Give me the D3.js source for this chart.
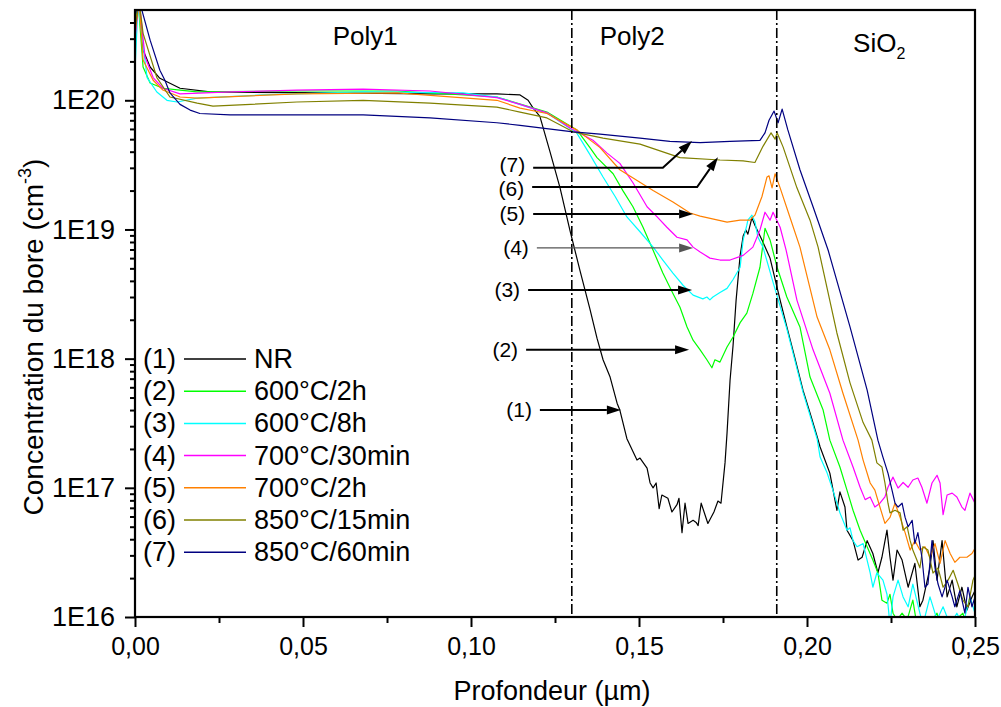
<!DOCTYPE html>
<html><head><meta charset="utf-8">
<script src="https://cdn.jsdelivr.net/npm/d3@7"></script>
<style>body{margin:0;background:#fff} svg text{font-family:"Liberation Sans",Arial,sans-serif;fill:#000}</style>
</head><body><svg id="c" width="1001" height="707"></svg>
<script>
// ---------- data ----------
const seriesIds = ["(1)","(2)","(3)","(4)","(5)","(6)","(7)"];
const seriesNames = ["NR","600°C/2h","600°C/8h","700°C/30min","700°C/2h","850°C/15min","850°C/60min"];
const xTickValues = [0,0.05,0.10,0.15,0.20,0.25];
const xMinorTicks = [0.025,0.075,0.125,0.175,0.225];
const yTickValues = [1e16,1e17,1e18,1e19,1e20];
const interfaces = [0.13,0.191];
const regionLabels = ["Poly1","Poly2","SiO"];
const regionCenters = [0.0685,0.148,0.2215];

const nr = [[0,3.5e20],[0.0012,6e20],[0.0024,2.45e20],[0.0045,1.81e20],[0.0074,1.48e20],[0.0134,1.24e20],[0.0223,1.16e20],[0.058,1.14e20],[0.0878,1.12e20],[0.1077,1.12e20],[0.1146,1.1e20],[0.117,1.0e20],[0.1185,8.7e19],[0.1205,7.5e19],[0.1235,4.0e19],[0.1265,2.1e19],[0.1295,9.7e18],[0.1324,4.85e18],[0.1354,2.42e18],[0.1375,1.44e18],[0.1393,9.8e17],[0.1414,7.2e17],[0.1435,4.5e17],[0.1443,4.0e17],[0.1464,2.4e17],[0.1494,1.64e17],[0.1503,1.7e17],[0.1524,1.42e17],[0.1533,1.09e17],[0.1542,1.0e17],[0.1551,1.09e17],[0.156,6.9e16],[0.1568,8.8e16],[0.1586,8.3e16],[0.1598,6.5e16],[0.1613,7.4e16],[0.1619,8.3e16],[0.1628,4.5e16],[0.1637,7.6e16],[0.1646,5.3e16],[0.1661,5.6e16],[0.167,5.4e16],[0.1676,5.1e16],[0.1685,7.6e16],[0.1705,5.3e16],[0.1723,6.5e16],[0.1735,7.9e16],[0.1744,7.6e16],[0.1756,1.56e17],[0.1762,2.65e17],[0.1771,6.8e17],[0.178,1.27e18],[0.1789,2.84e18],[0.1801,6.3e18],[0.181,8.9e18],[0.1818,9.9e18],[0.1824,9.2e18],[0.1836,1.23e19],[0.1845,1.08e19],[0.1866,8.3e18],[0.189,6.0e18],[0.192,2.84e18],[0.194,1.76e18],[0.1964,1.01e18],[0.1988,5.7e17],[0.2009,3.8e17],[0.203,2.5e17],[0.2039,2.07e17],[0.2068,1.3e17],[0.2089,6.7e16],[0.2098,9.3e16],[0.2113,7.1e16],[0.2119,4.7e16],[0.2137,3.9e16],[0.2152,2.76e16],[0.2164,2.9e16],[0.2179,3.9e16],[0.2196,3.1e16],[0.2211,2.2e16],[0.2223,2.9e16],[0.2238,4.7e16],[0.2247,2.9e16],[0.2256,1.93e16],[0.2268,3.3e16],[0.2283,2.76e16],[0.2301,1.7e16],[0.2321,2.6e16],[0.2336,1.2e16],[0.2345,1.35e16],[0.2366,2.4e16],[0.2375,3.9e16],[0.2387,1.93e16],[0.2402,3.9e16],[0.2417,1.43e16],[0.2432,1.93e16],[0.2446,1.2e16],[0.2461,1.7e16],[0.2476,1.13e16],[0.2491,1.43e16],[0.25,1.6e16]];

const s600_2h = [[0,3.0e20],[0.0009,6e20],[0.0024,1.81e20],[0.0045,1.36e20],[0.0083,1.24e20],[0.0134,1.2e20],[0.0185,1.16e20],[0.0482,1.18e20],[0.078,1.18e20],[0.1077,1.06e20],[0.1226,8.1e19],[0.1315,5.9e19],[0.1354,4.3e19],[0.1375,3.6e19],[0.1423,2.7e19],[0.1452,2.0e19],[0.1482,1.5e19],[0.1512,1.04e19],[0.1542,6.9e18],[0.1571,4.6e18],[0.1601,3.2e18],[0.1622,2.5e18],[0.1643,1.76e18],[0.1661,1.39e18],[0.1682,1.17e18],[0.1702,9.8e17],[0.1717,8.5e17],[0.1726,9.8e17],[0.1741,9.4e17],[0.1762,1.23e18],[0.178,1.47e18],[0.1801,1.9e18],[0.1821,2.25e18],[0.1839,3.2e18],[0.186,5.1e18],[0.1875,1.02e19],[0.189,8.3e18],[0.1911,5.1e18],[0.194,3.0e18],[0.1979,1.76e18],[0.2009,7.2e17],[0.2048,4.0e17],[0.2068,2.34e17],[0.2098,1.45e17],[0.2119,9.6e16],[0.2137,6.7e16],[0.2158,4.7e16],[0.2179,3.5e16],[0.2196,2.76e16],[0.2211,2.2e16],[0.2223,1.35e16],[0.2238,1.28e16],[0.2247,1.5e16],[0.2256,1.07e16],[0.2268,9.5e15],[0.2283,1.07e16],[0.2298,9.5e15],[0.2315,1.35e16],[0.2327,8.7e15],[0.2351,7.9e15],[0.2387,1.07e16],[0.2402,7.9e15],[0.2426,8.7e15],[0.2464,1.07e16],[0.2479,7.9e15],[0.25,8.7e15]];

const s600_8h = [[0,1.7e20],[0.0009,5.5e20],[0.0036,1.5e20],[0.0065,1.16e20],[0.0095,1.0e20],[0.0125,9.7e19],[0.0185,1.04e20],[0.0381,1.1e20],[0.0679,1.16e20],[0.0976,1.14e20],[0.1077,1.06e20],[0.1226,7.96e19],[0.1315,5.57e19],[0.1354,3.8e19],[0.1393,2.55e19],[0.1429,1.8e19],[0.1464,1.25e19],[0.1503,9.6e18],[0.1542,7.3e18],[0.1571,5.8e18],[0.1601,4.6e18],[0.1631,3.7e18],[0.1661,3.1e18],[0.169,2.9e18],[0.1702,3.0e18],[0.1711,2.85e18],[0.172,3.0e18],[0.1741,3.25e18],[0.1762,3.5e18],[0.178,4.1e18],[0.1801,5.1e18],[0.181,8.3e18],[0.1821,1.08e19],[0.1824,1.18e19],[0.1836,1.29e19],[0.1845,1.15e19],[0.1854,8.7e18],[0.1869,7.3e18],[0.1899,3.9e18],[0.194,1.7e18],[0.1988,5.5e17],[0.203,2.4e17],[0.2039,1.73e17],[0.206,1.3e17],[0.2077,9.6e16],[0.2098,6.4e16],[0.2119,4.7e16],[0.2128,4.9e16],[0.2137,3.9e16],[0.2149,3.5e16],[0.2167,3.7e16],[0.2188,2.2e16],[0.2196,1.7e16],[0.2208,2.2e16],[0.2226,1.93e16],[0.2238,1.5e16],[0.2247,8.7e15],[0.2256,1.43e16],[0.2271,1.93e16],[0.2286,1.43e16],[0.2301,1.2e16],[0.2315,1.8e16],[0.2336,1.07e16],[0.2345,8.7e15],[0.2366,1.43e16],[0.2387,9.5e15],[0.2405,1.2e16],[0.2426,8.7e15],[0.2446,1.07e16],[0.2464,8.7e15],[0.2485,1.43e16],[0.25,1.07e16]];

const s700_30m = [[0,3.0e20],[0.0012,6e20],[0.003,2.16e20],[0.0054,1.5e20],[0.0083,1.24e20],[0.0134,1.12e20],[0.0283,1.16e20],[0.0482,1.2e20],[0.0679,1.22e20],[0.0878,1.18e20],[0.1077,1.05e20],[0.1146,9.3e19],[0.1226,8.0e19],[0.1295,6.1e19],[0.1363,4.9e19],[0.1405,3.9e19],[0.1443,3.25e19],[0.1482,2.3e19],[0.1524,1.5e19],[0.1554,1.25e19],[0.1583,1.04e19],[0.1613,8.7e18],[0.1643,8.3e18],[0.1661,7.3e18],[0.1682,6.7e18],[0.1711,6.0e18],[0.1741,5.8e18],[0.1771,5.8e18],[0.181,6.3e18],[0.1839,7.3e18],[0.186,9.9e18],[0.1875,1.36e19],[0.189,1.18e19],[0.1899,1.36e19],[0.192,1.04e19],[0.1938,6.9e18],[0.197,2.84e18],[0.2018,1.17e18],[0.2068,5.4e17],[0.2107,2.34e17],[0.2137,1.45e17],[0.2158,1.01e17],[0.2173,8.1e16],[0.2188,8.5e16],[0.2202,7.1e16],[0.2217,7.6e16],[0.2232,8.5e16],[0.2241,1.01e17],[0.2256,1.21e17],[0.2271,9.96e16],[0.2286,1.1e17],[0.2301,1.01e17],[0.2315,1.15e17],[0.233,1.19e17],[0.2342,1.01e17],[0.2357,7.6e16],[0.2372,1.09e17],[0.2387,1.25e17],[0.2396,1.09e17],[0.2405,6.2e16],[0.2417,8.8e16],[0.2432,9.1e16],[0.2446,8.5e16],[0.2461,7.1e16],[0.247,6.7e16],[0.2485,9.1e16],[0.25,7.6e16]];

const s700_2h = [[0,3.3e20],[0.0012,6e20],[0.0024,2.05e20],[0.0054,1.43e20],[0.0083,1.2e20],[0.0134,1.06e20],[0.0185,1.04e20],[0.0482,1.12e20],[0.078,1.14e20],[0.1077,1.0e20],[0.1146,8.7e19],[0.1226,7.9e19],[0.1315,5.9e19],[0.1384,4.3e19],[0.1443,2.9e19],[0.1542,2.0e19],[0.1601,1.63e19],[0.1652,1.34e19],[0.1682,1.27e19],[0.1762,1.14e19],[0.1801,1.18e19],[0.183,1.18e19],[0.1845,1.29e19],[0.1866,1.8e19],[0.1881,2.55e19],[0.1887,2.6e19],[0.1896,2.1e19],[0.1905,2.7e19],[0.192,2.1e19],[0.1949,1.25e19],[0.1979,7.3e18],[0.203,2.1e18],[0.2068,1.17e18],[0.2107,5.4e17],[0.2152,2.34e17],[0.2167,1.64e17],[0.2188,1.09e17],[0.2202,9.6e16],[0.2217,7.1e16],[0.2232,5.3e16],[0.2247,5.9e16],[0.2262,7.6e16],[0.2277,5.9e16],[0.2292,4.5e16],[0.2307,3.3e16],[0.2321,3.9e16],[0.2336,3.3e16],[0.2351,3.5e16],[0.2366,2.9e16],[0.2381,3.7e16],[0.2396,2.6e16],[0.2411,3.9e16],[0.2426,3.1e16],[0.244,2.65e16],[0.2455,2.9e16],[0.2476,2.9e16],[0.2491,3.1e16],[0.25,3.4e16]];

const s850_15m = [[0,3.5e20],[0.0012,6e20],[0.0024,3.3e20],[0.0065,1.5e20],[0.0104,1.06e20],[0.0185,9.5e19],[0.0232,9.0e19],[0.0482,9.7e19],[0.0679,1.0e20],[0.0878,9.5e19],[0.1077,8.86e19],[0.1146,8.1e19],[0.1226,7.3e19],[0.1304,5.7e19],[0.1393,5.1e19],[0.1503,4.58e19],[0.1622,3.6e19],[0.1741,3.45e19],[0.181,3.4e19],[0.1845,3.3e19],[0.1869,4.4e19],[0.1893,5.6e19],[0.1905,5.0e19],[0.1911,5.6e19],[0.1929,4.34e19],[0.197,2.1e19],[0.2009,1.18e19],[0.2033,7.3e18],[0.2089,1.58e18],[0.2128,6.5e17],[0.2167,3.2e17],[0.2193,2.34e17],[0.2208,1.56e17],[0.2223,1.45e17],[0.2232,1.09e17],[0.2241,7.6e16],[0.2247,6.4e16],[0.2262,6.7e16],[0.2277,6.4e16],[0.2286,4.7e16],[0.2298,5.0e16],[0.2307,3.9e16],[0.2315,3.3e16],[0.2327,2.76e16],[0.2336,2.4e16],[0.2345,3.5e16],[0.236,3.3e16],[0.2375,2.19e16],[0.239,2.4e16],[0.2405,1.7e16],[0.242,1.93e16],[0.2435,2.3e16],[0.2449,1.8e16],[0.2464,1.35e16],[0.2479,1.2e16],[0.2494,1.93e16],[0.25,2.1e16]];

const s850_60m = [[0,4.5e20],[0.0012,6e20],[0.0045,2.92e20],[0.0074,1.71e20],[0.0089,1.43e20],[0.0104,1.14e20],[0.0134,9.3e19],[0.0164,8.4e19],[0.0193,7.9e19],[0.0283,7.7e19],[0.0482,7.7e19],[0.0679,7.7e19],[0.0878,7.3e19],[0.1077,6.7e19],[0.1146,6.4e19],[0.1304,5.7e19],[0.1384,5.47e19],[0.1503,5.1e19],[0.1592,4.8e19],[0.1682,4.7e19],[0.1771,4.8e19],[0.186,4.9e19],[0.1875,5.6e19],[0.1887,7.0e19],[0.1902,8.25e19],[0.1914,6.7e19],[0.1926,8.55e19],[0.1943,5.9e19],[0.1979,2.9e19],[0.2018,1.5e19],[0.2063,6.9e18],[0.2128,1.76e18],[0.2179,5.7e17],[0.2211,2.34e17],[0.2226,1.73e17],[0.2241,1.3e17],[0.2253,9.6e16],[0.2262,7.6e16],[0.2271,7.1e16],[0.2283,7.6e16],[0.2292,5.9e16],[0.2301,5.0e16],[0.2313,5.6e16],[0.2321,3.7e16],[0.233,4.5e16],[0.2342,2.9e16],[0.2351,1.7e16],[0.236,1.8e16],[0.2372,3.9e16],[0.2381,2.4e16],[0.239,1.8e16],[0.2402,1.43e16],[0.2417,1.93e16],[0.2432,1.43e16],[0.244,1.2e16],[0.2455,1.6e16],[0.247,1.07e16],[0.2479,1.7e16],[0.2491,1.2e16],[0.25,1.43e16]];

// annotation arrows (data coordinates), label index matches seriesIds
const arrowPaths = [
  [[0.1205,4.0e17],[0.1446,4.0e17]],
  [[0.1164,1.17e18],[0.1649,1.17e18]],
  [[0.1170,3.4e18],[0.1658,3.4e18]],
  [[0.1196,7.2e18],[0.1661,7.2e18]],
  [[0.1185,1.32e19],[0.1661,1.32e19]],
  [[0.1182,2.13e19],[0.1673,2.13e19],[0.1735,3.63e19]],
  [[0.1185,3.0e19],[0.1571,3.0e19],[0.1658,4.83e19]]
];

// ---------- styles ----------
const colors = ["#000000","#00ff00","#00ffff","#ff00ff","#ff8000","#808000","#000080"];
const seriesData = [nr,s600_2h,s600_8h,s700_30m,s700_2h,s850_15m,s850_60m];

const svg = d3.select("#c");
const L=135,R=975,T=10,B=617;
const x = d3.scaleLinear().domain([0,0.25]).range([L,R]);
const y = d3.scaleLog().domain([1e16,5e20]).range([B,T]);

svg.append("defs").append("clipPath").attr("id","clip")
  .append("rect").attr("x",L).attr("y",T).attr("width",R-L).attr("height",B-T);

// curves
const line = d3.line().x(d=>x(d[0])).y(d=>y(d[1]));
const g = svg.append("g").attr("clip-path","url(#clip)");
seriesData.forEach((s,i)=>{
  g.append("path").datum(s).attr("d",line).attr("fill","none")
   .attr("stroke",colors[i]).attr("stroke-width",1.2).attr("stroke-linejoin","round");
});

// interface lines
interfaces.forEach(v=>{
  svg.append("line").attr("x1",x(v)).attr("x2",x(v)).attr("y1",T).attr("y2",B)
    .attr("stroke","#000").attr("stroke-width",1.6).attr("stroke-dasharray","10,3,2,3");
});

// axes
const xAxis = svg.append("g").attr("transform",`translate(0,${B})`)
  .call(d3.axisBottom(x).tickValues(xTickValues).tickSize(10).tickSizeOuter(0)
    .tickFormat(d=>d3.format(".2f")(d).replace(".",",")));
svg.append("g").attr("transform",`translate(0,${B})`)
  .call(d3.axisBottom(x).tickValues(xMinorTicks).tickSize(6).tickSizeOuter(0).tickFormat(""));
const yMinor=[];
for(let e=16;e<=20;e++) for(let m=2;m<=9;m++){const v=m*Math.pow(10,e); if(v<5e20) yMinor.push(v);}
const yAxis = svg.append("g").attr("transform",`translate(${L},0)`)
  .call(d3.axisLeft(y).tickValues(yTickValues).tickSize(10).tickPadding(10).tickSizeOuter(0)
    .tickFormat(d=>"1E"+Math.round(Math.log10(d))));
svg.append("g").attr("transform",`translate(${L},0)`)
  .call(d3.axisLeft(y).tickValues(yMinor).tickSize(5).tickSizeOuter(0).tickFormat(""));
svg.selectAll(".domain").remove();
svg.selectAll(".tick line").attr("stroke","#000").attr("stroke-width",2);
xAxis.selectAll(".tick text").attr("font-size",25).attr("fill","#000").attr("dy","1.0em");
yAxis.selectAll(".tick text").attr("font-size",27).attr("fill","#000");

// frame
svg.append("rect").attr("x",L).attr("y",T).attr("width",R-L).attr("height",B-T)
  .attr("fill","none").attr("stroke","#000").attr("stroke-width",2.2);

// region labels
regionLabels.forEach((t,i)=>{
  const tx = svg.append("text").attr("x",x(regionCenters[i])).attr("y",i===2?52:45)
    .attr("text-anchor","middle").attr("font-size",26).text(t);
  if(i===2) tx.append("tspan").attr("font-size",16).attr("dy",7).text("2");
});

// axis titles
svg.append("text").attr("x",552).attr("y",700).attr("text-anchor","middle")
  .attr("font-size",27).text("Profondeur (µm)");
const yt = svg.append("text").attr("transform","translate(43,337) rotate(-90)")
  .attr("text-anchor","middle").attr("font-size",28);
yt.append("tspan").text("Concentration du bore (cm");
yt.append("tspan").attr("font-size",18).attr("dy",-12).text("-3");
yt.append("tspan").attr("dy",12).text(")");

// legend
seriesIds.forEach((id,i)=>{
  const cy = 359 + i*32.2;
  svg.append("text").attr("x",143).attr("y",cy+9).attr("font-size",27).text(id);
  svg.append("line").attr("x1",184).attr("x2",246).attr("y1",cy).attr("y2",cy)
    .attr("stroke",colors[i]).attr("stroke-width",1.5);
  svg.append("text").attr("x",254).attr("y",cy+9).attr("font-size",27).text(seriesNames[i]);
});

// annotation arrows
const labelShift = [7,7,7,7,7,9,4];
arrowPaths.forEach((p,i)=>{
  const pts = p.map(d=>[x(d[0]),y(d[1])]);
  const col = i===3 ? "#555" : "#000";
  const sw = i===3 ? 1.3 : 2;
  const n = pts.length;
  const [x1,y1]=pts[n-2],[x2,y2]=pts[n-1];
  const ang = Math.atan2(y2-y1,x2-x1);
  const hl=14, hw=4.5;
  const bx = x2-hl*Math.cos(ang), by = y2-hl*Math.sin(ang);
  const linePts = pts.slice(0,n-1).concat([[bx,by]]);
  svg.append("path").attr("d",d3.line()(linePts)).attr("fill","none")
    .attr("stroke",col).attr("stroke-width",sw);
  const px=-Math.sin(ang), py=Math.cos(ang);
  svg.append("path").attr("d",`M${x2},${y2}L${bx+px*hw},${by+py*hw}L${bx-px*hw},${by-py*hw}Z`)
    .attr("fill",col);
  svg.append("text").attr("x",pts[0][0]-8).attr("y",pts[0][1]+labelShift[i]).attr("text-anchor","end")
    .attr("font-size",21).text(seriesIds[i]);
});
</script></body></html>
